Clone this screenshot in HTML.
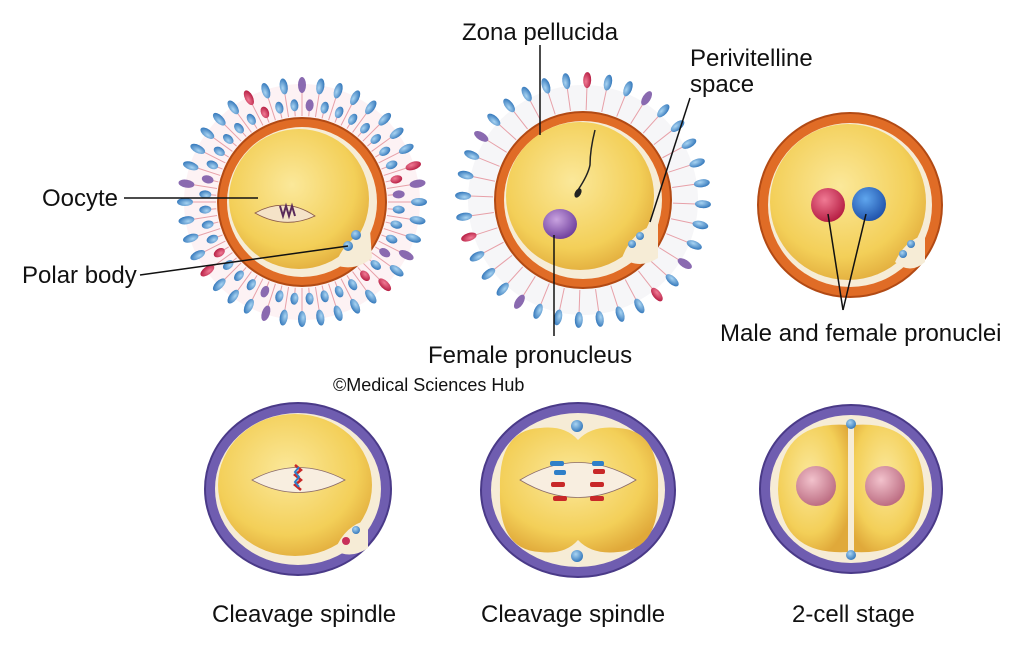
<!DOCTYPE html>
<html><head><meta charset="utf-8"><style>
body{margin:0;background:#fff;width:1024px;height:657px;overflow:hidden}
svg text{font-family:"Liberation Sans",Arial,sans-serif;fill:#111}
</style></head><body>
<svg id="s" width="1024" height="657" viewBox="0 0 1024 657" xmlns="http://www.w3.org/2000/svg">
<defs>
<radialGradient id="yel" cx="45%" cy="40%" r="65%"><stop offset="0" stop-color="#fbe89a"/><stop offset="0.7" stop-color="#f3cf58"/><stop offset="1" stop-color="#e0a93a"/></radialGradient>
<radialGradient id="blu" cx="40%" cy="35%" r="70%"><stop offset="0" stop-color="#a9d4f2"/><stop offset="1" stop-color="#2e73b8"/></radialGradient>
<radialGradient id="pnk" cx="40%" cy="35%" r="70%"><stop offset="0" stop-color="#f2c2cc"/><stop offset="1" stop-color="#b9687e"/></radialGradient>
<radialGradient id="pur" cx="40%" cy="35%" r="70%"><stop offset="0" stop-color="#c9a3e0"/><stop offset="1" stop-color="#6b3a9a"/></radialGradient>
<radialGradient id="red" cx="40%" cy="35%" r="70%"><stop offset="0" stop-color="#f07a94"/><stop offset="1" stop-color="#b3193f"/></radialGradient>
<radialGradient id="bl2" cx="40%" cy="35%" r="70%"><stop offset="0" stop-color="#5fa6ee"/><stop offset="1" stop-color="#1d4fa8"/></radialGradient>
</defs>
<g id="corona"></g>

<!-- Cell 1 -->
<circle cx="302" cy="202" r="84" fill="#e06c26" stroke="#b24a14" stroke-width="2"/>
<circle cx="302" cy="202" r="75" fill="#f6ecd6"/>
<circle cx="299" cy="199" r="70" fill="url(#yel)"/>
<path d="M335 265 Q345 238 370 230 L372 258 Q355 272 335 265Z" fill="#f6ecd6"/>
<circle cx="356" cy="235" r="5" fill="url(#blu)"/><circle cx="348" cy="246" r="5" fill="url(#blu)"/>
<path d="M255 213 Q285 196 315 216 Q285 230 255 213Z" fill="#f5e3c8" stroke="#8a5a4a" stroke-width="0.8"/>
<path d="M280 206 l3 10 l3 -10 l3 10 l3 -10 l3 10" stroke="#5a2a5a" stroke-width="2" fill="none"/>

<!-- Cell 2 -->
<circle cx="583" cy="200" r="88" fill="#e06c26" stroke="#b24a14" stroke-width="2"/>
<circle cx="583" cy="200" r="79" fill="#f6ecd6"/>
<circle cx="580" cy="196" r="74" fill="url(#yel)"/>
<path d="M622 258 Q632 230 658 224 L658 258 Q640 270 622 258Z" fill="#f6ecd6"/>
<circle cx="640" cy="236" r="4" fill="url(#blu)"/><circle cx="632" cy="244" r="4" fill="url(#blu)"/>
<ellipse cx="560" cy="224" rx="17" ry="15" fill="url(#pur)"/>
<path d="M595 130 Q590 150 590 165 Q588 175 578 190" stroke="#222" stroke-width="1.5" fill="none"/>
<ellipse cx="578" cy="193" rx="3" ry="5" fill="#222" transform="rotate(30 578 193)"/>

<!-- Cell 3 -->
<circle cx="850" cy="205" r="92" fill="#e06c26" stroke="#b24a14" stroke-width="2"/>
<circle cx="850" cy="205" r="82" fill="#f6ecd6"/>
<circle cx="848" cy="202" r="78" fill="url(#yel)"/>
<path d="M895 262 Q905 240 925 235 L925 262 Q910 275 895 262Z" fill="#f6ecd6"/>
<circle cx="911" cy="244" r="4" fill="url(#blu)"/><circle cx="903" cy="254" r="4" fill="url(#blu)"/>
<circle cx="828" cy="205" r="17" fill="url(#red)"/>
<circle cx="869" cy="204" r="17" fill="url(#bl2)"/>

<!-- Cell 4 -->
<ellipse cx="298" cy="489" rx="93" ry="86" fill="#6f5db0" stroke="#4a3a88" stroke-width="2"/>
<ellipse cx="298" cy="489" rx="83" ry="76" fill="#f6ecd6"/>
<ellipse cx="295" cy="485" rx="77" ry="71" fill="url(#yel)"/>
<path d="M335 550 Q345 525 368 520 L368 548 Q350 560 335 550Z" fill="#f6ecd6"/>
<circle cx="346" cy="541" r="4" fill="#c8305a"/><circle cx="356" cy="530" r="4" fill="url(#blu)"/>
<path d="M252 480 Q298 455 345 480 Q298 505 252 480Z" fill="#f8eee0" stroke="#8a6a6a" stroke-width="0.8"/>
<path d="M295 465 l6 5 l-6 5 l6 5 l-6 5 l6 5" stroke="#c82828" stroke-width="2.5" fill="none"/>
<path d="M299 467 l-4 5 l4 5 l-4 5 l4 5" stroke="#2f7fc8" stroke-width="2" fill="none"/>

<!-- Cell 5 -->
<ellipse cx="578" cy="490" rx="97" ry="87" fill="#6f5db0" stroke="#4a3a88" stroke-width="2"/>
<ellipse cx="578" cy="490" rx="87" ry="77" fill="#f6ecd6"/>
<path d="M500 490 Q498 430 540 428 Q565 425 578 440 Q592 425 618 428 Q660 430 658 490 Q660 550 618 552 Q592 555 578 540 Q565 555 540 552 Q498 550 500 490Z" fill="url(#yel)"/>
<circle cx="577" cy="426" r="6" fill="url(#blu)"/><circle cx="577" cy="556" r="6" fill="url(#blu)"/>
<path d="M520 480 Q578 445 636 480 Q578 515 520 480Z" fill="#f8eee0" stroke="#8a6a6a" stroke-width="0.8"/>
<g fill="#c82828"><rect x="551" y="482" width="14" height="5" rx="2"/><rect x="553" y="496" width="14" height="5" rx="2"/><rect x="590" y="482" width="14" height="5" rx="2"/><rect x="590" y="496" width="14" height="5" rx="2"/><rect x="593" y="469" width="12" height="5" rx="2"/></g>
<g fill="#2f7fc8"><rect x="550" y="461" width="14" height="5" rx="2"/><rect x="554" y="470" width="12" height="5" rx="2"/><rect x="592" y="461" width="12" height="5" rx="2"/></g>

<!-- Cell 6 -->
<ellipse cx="851" cy="489" rx="91" ry="84" fill="#6f5db0" stroke="#4a3a88" stroke-width="2"/>
<ellipse cx="851" cy="489" rx="81" ry="74" fill="#f6ecd6"/>
<path d="M848 425 Q780 420 778 489 Q780 556 848 552Z" fill="url(#yel)"/>
<path d="M854 425 Q922 420 924 489 Q922 556 854 552Z" fill="url(#yel)"/>
<circle cx="851" cy="424" r="5" fill="url(#blu)"/><circle cx="851" cy="555" r="5" fill="url(#blu)"/>
<circle cx="816" cy="486" r="20" fill="url(#pnk)"/><circle cx="885" cy="486" r="20" fill="url(#pnk)"/>

<!-- leaders -->
<g stroke="#111" stroke-width="1.5" fill="none">
<line x1="124" y1="198" x2="258" y2="198"/>
<line x1="140" y1="275" x2="348" y2="246"/>
<line x1="540" y1="45" x2="540" y2="135"/>
<line x1="690" y1="98" x2="650" y2="222"/>
<line x1="554" y1="235" x2="554" y2="336"/>
<line x1="828" y1="214" x2="843" y2="310"/>
<line x1="866" y1="214" x2="843" y2="310"/>
</g>

<text x="42" y="206" font-size="24">Oocyte</text>
<text x="22" y="283" font-size="24">Polar body</text>
<text x="462" y="40" font-size="24">Zona pellucida</text>
<text x="690" y="66" font-size="24">Perivitelline</text>
<text x="690" y="92" font-size="24">space</text>
<text x="428" y="363" font-size="24">Female pronucleus</text>
<text x="720" y="341" font-size="24">Male and female pronuclei</text>
<text x="333" y="391" font-size="18">©Medical Sciences Hub</text>
<text x="212" y="622" font-size="24">Cleavage spindle</text>
<text x="481" y="622" font-size="24">Cleavage spindle</text>
<text x="792" y="622" font-size="24">2-cell stage</text>
</svg>
<script>
var g=document.getElementById('corona'),h='';
function ring(cx,cy,r1,r2,n,off,rx){for(var i=0;i<n;i++){var a=(i+off)/n*2*Math.PI,c=Math.cos(a),s=Math.sin(a);
var x1=cx+c*r1,y1=cy+s*r1,x2=cx+c*r2,y2=cy+s*r2,d=a*180/Math.PI;
h+='<line x1="'+x1+'" y1="'+y1+'" x2="'+x2+'" y2="'+y2+'" stroke="#e7a0a8" stroke-width="1"/>';
var fill=(i%11==5)?'url(#red)':(i%9==3?'#8a6ab0':'url(#blu)');
var ex=cx+c*(r2+rx-1),ey=cy+s*(r2+rx-1);
h+='<ellipse cx="'+ex+'" cy="'+ey+'" rx="'+rx+'" ry="4" fill="'+fill+'" transform="rotate('+d+' '+ex+' '+ey+')"/>';}}
h+='<circle cx="302" cy="202" r="118" fill="#fbe9ec" opacity="0.6"/>';
ring(302,202,86,110,40,0,8);ring(302,202,86,92,40,0.5,6);
h+='<circle cx="583" cy="200" r="115" fill="#f0f0f4" opacity="0.6"/>';
ring(583,200,90,113,36,0.2,8);
g.innerHTML=h;
</script>
</body></html>
